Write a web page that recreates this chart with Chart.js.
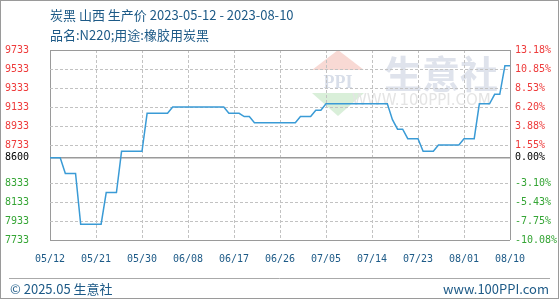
<!DOCTYPE html>
<html>
<head>
<meta charset="utf-8">
<script src="https://cdn.jsdelivr.net/npm/chart.js@4/dist/chart.umd.min.js"></script>
<style>
  html, body { margin: 0; padding: 0; background: #fff; }
  canvas { display: block; }
</style>
</head>
<body>
<canvas id="myChart" width="560" height="300"></canvas>
<script>
const titleLines = ['炭黑 山西 生产价 2023-05-12 - 2023-08-10', '品名:N220;用途:橡胶用炭黑'];
const footerLeft = '© 2025.05 生意社';
const footerRight = 'www.100PPI.com';

// one price per calendar day, 05/12 .. 08/10
const startDay = new Date(2023, 4, 12);
const dayCount = 91;
const xTickLabels = ['05/12', '05/21', '05/30', '06/08', '06/17', '06/26', '07/05', '07/14', '07/23', '08/01', '08/10'];

const prices = [
  8600, 8600, 8600, 8433, 8433, 8433, 7900, 7900, 7900, 7900,
  7900, 8233, 8233, 8233, 8667, 8667, 8667, 8667, 8667, 9067,
  9067, 9067, 9067, 9067, 9133, 9133, 9133, 9133, 9133, 9133,
  9133, 9133, 9133, 9133, 9133, 9067, 9067, 9067, 9033, 9033,
  8967, 8967, 8967, 8967, 8967, 8967, 8967, 8967, 8967, 9033,
  9033, 9033, 9100, 9100, 9167, 9167, 9167, 9167, 9167, 9167,
  9167, 9167, 9167, 9167, 9167, 9167, 9167, 9000, 8900, 8900,
  8800, 8800, 8800, 8667, 8667, 8667, 8733, 8733, 8733, 8733,
  8733, 8800, 8800, 8800, 9167, 9167, 9167, 9267, 9267, 9567,
  9567
];

const basePrice = 8600;
const yTickValues = [9733.33, 9533.33, 9333.33, 9133.33, 8933.33, 8733.33, 8600, 8333.33, 8133.33, 7933.33, 7733.33];
const yTickLabels = ['9733', '9533', '9333', '9133', '8933', '8733', '8600', '8333', '8133', '7933', '7733'];
const pctTickLabels = ['13.18%', '10.85%', '8.53%', '6.20%', '3.88%', '1.55%', '0.00%', '-3.10%', '-5.43%', '-7.75%', '-10.08%'];

const labels = [];
for (let i = 0; i < dayCount; i++) {
  const d = new Date(startDay.getFullYear(), startDay.getMonth(), startDay.getDate() + i);
  labels.push(String(d.getMonth() + 1).padStart(2, '0') + '/' + String(d.getDate()).padStart(2, '0'));
}

const RED = '#ee3b3b';
const GREEN = '#35a535';
const BLUE_TEXT = '#1d5a87';
const FRAME = '#9a9a9a';
const GRID = '#c2c2c2';

function tickColor(ctx) {
  const v = ctx.tick.value;
  if (Math.abs(v - basePrice) < 0.5) return '#000';
  return v > basePrice ? RED : GREEN;
}
function isEdgeY(v) {
  return v === yTickValues[0] || v === yTickValues[yTickValues.length - 1];
}

const decorPlugin = {
  id: 'decor',
  beforeDraw(chart) {
    const c = chart.ctx;
    c.save();
    c.fillStyle = '#fff';
    c.fillRect(0, 0, chart.width, chart.height);

    // watermark logo
    c.fillStyle = '#f8d9d4';
    c.beginPath();
    c.moveTo(312, 70); c.lineTo(338, 50); c.lineTo(364, 70); c.closePath();
    c.fill();
    c.fillStyle = '#d9efd9';
    c.beginPath();
    c.moveTo(312, 93); c.lineTo(338, 116); c.lineTo(364, 93); c.closePath();
    c.fill();
    c.fillStyle = '#d8dee9';
    c.font = 'bold 18px "Liberation Serif"';
    c.textAlign = 'center';
    c.textBaseline = 'middle';
    c.fillText('PPI', 338, 83);
    c.font = 'bold 38px "Noto Sans CJK SC"';
    c.fillStyle = '#dfe3ec';
    c.textAlign = 'left';
    c.fillText('生意社', 384, 74);
    c.font = '15px "DejaVu Sans"';
    c.fillStyle = '#e4e4e4';
    c.fillText('WWW.100PPI.COM', 352, 101);
    c.restore();
  },
  afterDraw(chart) {
    const c = chart.ctx;
    c.save();
    c.fillStyle = BLUE_TEXT;
    c.textAlign = 'left';
    c.textBaseline = 'alphabetic';
    c.font = '13px "Noto Sans CJK SC"';
    c.fillText(titleLines[0], 50, 20);
    c.fillText(titleLines[1], 50, 40);

    c.strokeStyle = '#aaaaaa';
    c.lineWidth = 1;
    c.beginPath();
    c.moveTo(9, 278.5); c.lineTo(550, 278.5);
    c.stroke();

    c.font = '13px "Noto Sans CJK SC"';
    c.fillText(footerLeft, 10, 294);
    c.textAlign = 'right';
    c.fillText(footerRight, 549, 294);

    c.strokeStyle = FRAME;
    c.strokeRect(0.5, 0.5, 558, 298);
    c.restore();
  }
};

const ctx = document.querySelector('#myChart');
/* eslint-disable no-unused-vars */
const myChart = new Chart(ctx, {
  type: 'line',
  data: {
    labels: labels,
    datasets: [{
      data: prices,
      borderColor: 'rgb(58,155,214)',
      borderWidth: 1.5,
      pointRadius: 0,
      tension: 0,
      fill: false,
      yAxisID: 'y'
    }]
  },
  options: {
    responsive: false,
    animation: false,
    events: [],
    layout: { padding: { top: 50, left: 5, right: 0, bottom: 0 } },
    plugins: {
      legend: { display: false },
      tooltip: { enabled: false }
    },
    scales: {
      x: {
        type: 'category',
        offset: false,
        border: { display: false, dash: ctx => (ctx.index === 0 || ctx.index === dayCount - 1) ? [] : [3, 2] },
        grid: {
          drawTicks: false,
          lineWidth: 1,
          color: ctx => {
            if (ctx.index === 0 || ctx.index === dayCount - 1) return FRAME;
            return ctx.index % 9 === 0 ? GRID : 'rgba(0,0,0,0)';
          }
        },
        ticks: {
          autoSkip: false,
          maxRotation: 0,
          padding: 13,
          color: BLUE_TEXT,
          font: { family: 'DejaVu Sans Mono', size: 10 },
          callback: (val, i) => (i % 9 === 0 ? xTickLabels[i / 9] : '')
        },
        afterFit: s => { s.height = 60; }
      },
      y: {
        position: 'left',
        min: yTickValues[yTickValues.length - 1],
        max: yTickValues[0],
        afterBuildTicks: s => { s.ticks = yTickValues.map(v => ({ value: v })); },
        afterFit: s => { s.width = 45; },
        border: {
          display: false,
          dash: ctx => (ctx.tick && (isEdgeY(ctx.tick.value) || ctx.tick.value === basePrice)) ? [] : [3, 2]
        },
        grid: {
          drawTicks: false,
          color: ctx => (isEdgeY(ctx.tick.value) || ctx.tick.value === basePrice) ? FRAME : GRID,
          lineWidth: ctx => ctx.tick.value === basePrice ? 1.5 : 1
        },
        ticks: {
          crossAlign: 'far',
          padding: 0,
          color: tickColor,
          font: { family: 'DejaVu Sans Mono', size: 10 },
          callback: (val, i) => yTickLabels[i]
        }
      },
      y1: {
        position: 'right',
        min: yTickValues[yTickValues.length - 1],
        max: yTickValues[0],
        afterBuildTicks: s => { s.ticks = yTickValues.map(v => ({ value: v })); },
        afterFit: s => { s.width = 50; },
        border: { display: false },
        grid: { display: false, drawTicks: false },
        ticks: {
          padding: 5,
          color: tickColor,
          font: { family: 'DejaVu Sans Mono', size: 10 },
          callback: (val, i) => pctTickLabels[i]
        }
      }
    }
  },
  plugins: [decorPlugin]
});
</script>
</body>
</html>
